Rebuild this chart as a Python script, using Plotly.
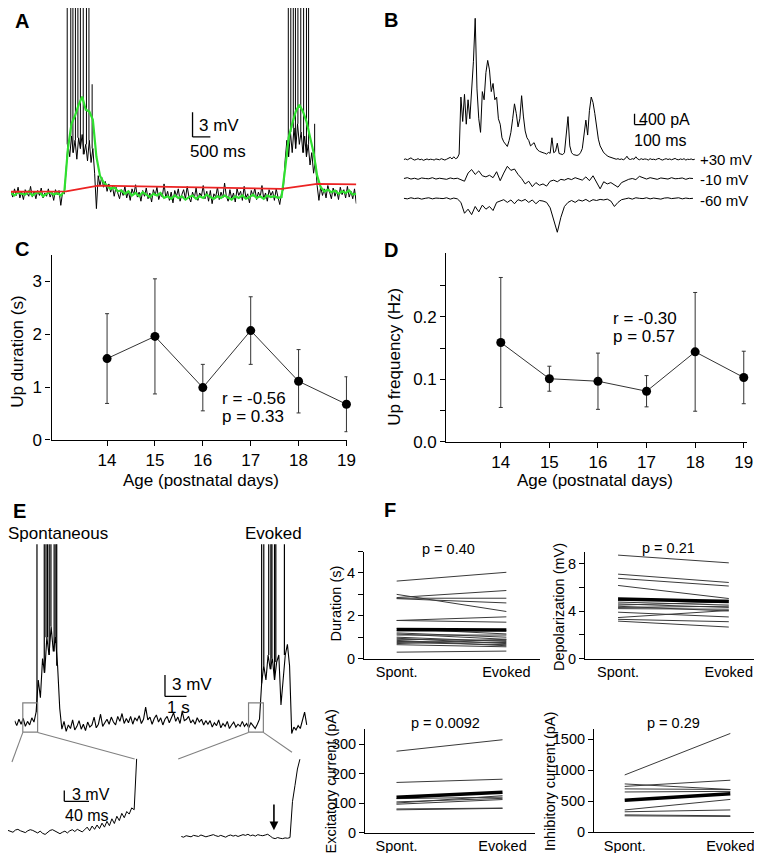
import plotly.graph_objects as go

W, H = 762, 853
FONT = "Liberation Sans, Arial, Helvetica, sans-serif"

# ======================= DATA =======================
# ---- Panel A: membrane potential (mV rel. to rest), 50 ms samples ----
a_dt = 0.05
a_membrane = [
    0.3, -0.4, 0.6, -0.2, 0.8, -0.5, 0.2, -0.7, 0.5, 0.0,
    -0.3, 0.9, -0.4, 0.3, -0.6, 0.4, -0.2, 0.7, -0.5, 0.1,
    -0.3, 0.6, -0.4, 0.2, -0.8, 0.5, -0.1, 0.4, -1.4, 0.2,
    0.0,
    3.0, 6.0, 4.5, 7.0, 5.0, 6.5, 4.2, 6.8, 5.5, 7.2,
    4.8, 6.0, 4.0, 6.5, 3.8, 5.5, 2.5, -1.8,
    2.2, 1.0, 2.0, 0.8, 1.5, 0.3, 1.2, 0.2, 0.9, -0.3, 0.8, 0.0,
    -0.6, 0.5, -0.2, 0.9, -0.5, 0.3, -0.8, 0.6, -0.1, 1.1,
    -0.4, 0.2, -0.9, 0.4, -0.3, 0.7, -0.6, 0.1, -1.0, 0.5,
    -0.2, 0.8, -0.7, 0.0, -0.4, 1.2, -0.5, 0.3, -0.8, 0.2,
    -1.1, 0.4, -0.3, 0.6, -0.9, -0.1, 0.5, -0.6, 0.9, -0.4,
    -1.0, 0.2, -0.5, 0.7, -0.8, 0.1, -0.3, 1.0, -0.6, 0.3,
    -0.9, 0.4, -1.2, 0.0, -0.4, 0.8, -0.7, 0.2, -0.5, 1.3,
    -0.3, -0.9, 0.5, -0.6, 0.1, -1.0, 0.6, -0.2, 0.3, -0.8,
    0.9, -0.5, 0.0, -1.1, 0.4, -0.3, 0.7, -0.7, 0.2, -0.4,
    1.0, -0.6, 0.1, -0.9, 0.5, -0.2, 0.3, -0.8, 0.6, -0.4,
    -1.3, 0.1,
    0.5, 4.0, 6.5, 4.5, 7.5, 5.0, 8.0, 5.5, 8.5, 6.0,
    7.5, 5.0, 7.0, 4.5, 6.0, 3.5, 5.0, 2.5, 4.0, 1.0,
    -0.8, 0.9, -0.2, 0.6, -0.5, 1.0, 0.0, -0.6, 0.7, -0.3,
    0.4, -0.7, 0.8, -0.1, 0.5, -0.5, 0.9, -0.4, 0.3, -0.6,
    0.6, -1.2,
]
a_spike_times = [1.58, 1.68, 1.74, 1.81, 1.88, 1.95, 2.03, 2.12, 2.19, 2.28,
                 7.79, 7.86, 7.93, 7.99, 8.06, 8.14, 8.22, 8.30, 8.36, 8.53]
a_spike_peaks = [30, 30, 30, 30, 30, 30, 30, 30, 30, 13.3,
                 30, 30, 30, 30, 30, 30, 30, 30, 30, 8.5]
# filtered (green), 100 ms samples
a_filt_dt = 0.1
a_filtered = [
    0.1, -0.2, 0.2, 0.0, -0.1, 0.3, -0.2, 0.1, 0.2, -0.3,
    0.0, 0.2, -0.1, 0.1, -0.2,
    0.3, 5.5, 8.5, 9.5, 10.8, 11.8, 10.2, 10.0, 9.0, 4.5,
    2.2, 1.4, 1.0, 0.6, 0.8, 0.3,
    0.4, 0.0, 0.3, -0.2, 0.1, -0.3, 0.2, -0.1, -0.4, 0.0,
    -0.2, 0.1, -0.5, -0.3, -0.6, -0.2, -0.5, -0.3, -0.7, -0.4,
    -0.2, -0.6, -0.3, -0.5, -0.1, -0.4, -0.6, -0.3, -0.5, -0.2,
    -0.4, -0.7, -0.3, -0.5, -0.2, -0.6, -0.4, -0.1, -0.5, -0.3,
    -0.6, -0.2, -0.4, -0.3, -0.5,
    -0.4, 3.0, 6.8, 8.5, 10.0, 10.8, 10.0, 8.8, 7.0, 5.0,
    2.2, 0.8,
    0.3, 0.5, 0.2, 0.4, 0.0, 0.3, 0.1, 0.4, -0.1, 0.0,
]
# slow component (red)
a_slow_t = [0, 1.55, 2.45, 3.5, 7.6, 8.6, 9.7]
a_slow = [0.25, 0.3, 1.0, 0.9, 0.6, 1.2, 1.15]

# ---- Panel B: currents (pA) at three holding potentials ----
b_dt_fine = 0.0164
b_plus30 = [
    0, 20, -10, 30, 60, 10, -20, 0, 30, -10,
    10, -30, 0, 20, -10, 10, 0, -20, 20, 10,
    -10, 30, 0, -20, 10, 40, 80, 20, 100, 30,
    60,
    200, 2300, 1400, 2400, 1300, 2200, 1500, 2500, 3600, 5200,
    2600, 1500, 1000, 2500, 2200, 3200, 3650, 3300, 2500, 2800,
    2200, 2300, 1500, 1300, 800, 650, 550, 480, 700, 1000,
    1500, 2050, 1700, 1200, 1500, 2350, 1600, 1050, 800, 700,
    500, 560, 620, 450, 350, 300, 260, 250, 230, 200,
    260, 230, 800, 250, 300, 600, 220, 200, 180, 250,
    900, 1580, 500, 250, 180, 160, 150, 170, 250, 400,
    900, 1450, 900, 1800, 2300, 2100, 1700, 1100, 750, 500,
    350, 250, 200, 130, 100, 80, 60,
    40, 10, 30, 0, 20, -10, 30, 120, 20, 0,
    30, 10, 100, 20, -10, 30, 0, 20, 10, -20,
    30, 0, 10, -10, 20, 40, 0, -20, 10, 30,
    0, 20, -10, 10, 40, 0, -10, 20, 0, 30,
    -20, 10, 0, 20, -10, 10,
]
b_dt_coarse = 0.0328
b_minus10 = [
    0, 30, -20, 10, -30, 20, 0, -10, 30, -20,
    10, 0, -30, 20, -10, 10, -40,
    -100, 200, 330, 150, 280, 100, 60, 120, 30, 250,
    -80, 200, 450, 300, 350, 150, 0, -200, -100, -300,
    -150, -250, -200, -280, -100, -60, -120, -30, -60, 0,
    -40, 30, -30, -60, 60, -80, 100, -150, -380, -120,
    -200, -150, -250, -320, -150, -80, -30, 0, -40, 80,
    20,
    -20, 30, 0, -30, 20, 10, -20, 30, -10, 0,
    20, -30, 10, 0,
]
b_minus60 = [
    0, -20, 20, -10, 10, -30, 0, 20, -20, 10,
    0, -10, 20, -30, 10, -20,
    -150, -550, -400, -600, -300, -500, -250, -400, -300, -450,
    -150, -100, -50, -150, -60, -200, -50, -100, -40, -150,
    -60, -200, -80, -100, -150, -350, -800, -1250, -700, -300,
    -150, -80, -150, -60, -100, -40, -120, -50, -80, -40,
    -60, -30, -100, -300, -150, -50,
    -20, 10, -30, 20, 0, -10, 20, -20, 10, 0,
    -30, 10, 20, -10, 0, 20, -20, 10, -10, 0,
]
b_labels = ["+30 mV", "-10 mV", "-60 mV"]

# ---- Panel C ----
ages = [14, 15, 16, 17, 18, 19]
up_duration = [1.54, 1.96, 0.99, 2.07, 1.11, 0.675]
up_duration_err = [0.85, 1.09, 0.44, 0.64, 0.60, 0.52]

# ---- Panel D ----
up_frequency = [0.159, 0.101, 0.097, 0.081, 0.144, 0.103]
up_frequency_err = [0.104, 0.020, 0.045, 0.025, 0.095, 0.042]

# ---- Panel E: membrane potential (mV), 100 ms samples ----
e_dt = 0.1
e_membrane = [
    0.3, -0.4, 0.5, -0.2, 0.6, -0.5, 0.2, -0.3, 0.7, 0.1,
    1.5, 6.0, 3.5, 9.0, 7.0, 12.0, 9.5, 13.5, 10.0, 12.0, 8.0, 2.0,
    -0.9, 0.2, -1.2, -0.3, -0.8, 0.4, -1.0, -0.5, 0.3, -0.9,
    -0.2, -1.1, 0.1, -0.6, -0.3, 0.8, -0.7, -0.2, 1.2, -0.5, 0.0,
    0.5, -0.2, 0.8, 0.1, -0.3, 0.9, 0.2, 1.3, -0.1, 0.6,
    0.0, 0.9, -0.2, 0.7, 0.3, 1.0, -0.1, 0.5, 2.2, 0.4,
    0.8, -0.2, 0.6, 1.1, 0.1, 0.7, -0.3, 0.5, 0.9, 0.0,
    0.6, 1.4, 0.2, 0.8, -0.1, 1.6, 0.3, 0.5, 0.9, 0.0,
    0.4, -0.2, 0.7, 0.1, 0.5, -0.3, 0.3,
    -0.2, 0.3, -0.6, 0.0, -0.4, 0.4, -0.7, -0.1, -0.5, 0.2,
    -0.8, -0.3, 0.1, -0.6, -0.2, -0.5,
    0.2, -0.5, -0.1, -0.7, 0.0, -0.4, -0.8, -0.2,
    0.5, 5.5, 8.0, 6.0, 9.5, 7.5, 9.0, 6.0, 8.5, 9.5,
    2.5, 6.0, 9.5, 11.0, 8.0,
    -1.5, -0.6, -1.0, -0.4, -0.8, 0.2, 1.5, -0.3,
]
e_spont_spikes = [1.04, 1.38, 1.46, 1.53, 1.61, 1.69, 1.84, 1.92, 1.96]
e_evoked_spikes = [11.50, 11.60, 11.83, 11.93, 11.98, 12.10, 12.16, 12.56]
e_spike_peak = 40
# expanded views (mV), 4 ms samples
e_inset_dt = 4
e_inset_spont = [
    0.3, 0.0, -0.2, 0.4, 0.6, 0.2, 0.0, -0.3, 0.2, 0.5,
    0.3, -0.1, -0.4, 0.1, -0.5, -0.8, -0.2, 0.3, 0.5, 0.2,
    -0.3, -0.6, -0.2, 0.1, -0.4, 0.2, 0.5, 0.0, 0.6, 0.3,
    -0.1,
    0.5, 1.2, 0.2, 1.5, 0.6, 1.8, 0.8, 2.3, 1.2, 2.8, 1.6, 3.5, 2.2,
    4.2, 3.0, 5.0, 3.8, 5.5, 4.8, 6.5, 6.0, 20.0,
]
e_inset_evoked = [
    0.0, -0.2, 0.2, 0.1, -0.1, 0.3, 0.2, 0.0, 0.4, 0.2,
    -0.1, 0.1, 0.3, 0.5, 0.2, 0.0, 0.3, 0.1, -0.2, 0.2,
    0.4, 0.1, 0.3, 0.0, 0.2, 0.5, 0.3, 0.6, 0.2, 0.4,
    0.1, 0.5, 0.3, 0.2, 0.4, 0.6, 0.1,
    -0.4, -0.6, -0.3, -0.5, -0.6, -0.4, -0.5, -0.3,
    9.6, 14.0, 18.6, 21.3,
]
e_stim_time = 150  # ms, arrow in evoked expanded view

# ---- Panel F: paired spontaneous vs evoked ----
f_conditions = ["Spont.", "Evoked"]
f_dur_spont = [3.62, 3.00, 2.85, 2.82, 2.80, 1.78, 1.78, 1.40, 1.30, 1.20, 1.15,
               1.10, 1.00, 0.95, 0.90, 0.85, 0.80, 0.75, 0.70, 0.65, 0.30]
f_dur_evoked = [4.03, 2.20, 3.18, 2.82, 2.60, 1.95, 1.70, 1.15, 1.30, 1.00, 0.90,
                1.10, 0.80, 0.70, 0.85, 0.60, 0.75, 0.65, 0.90, 0.55, 0.35]
f_dur_mean = [1.36, 1.34]
f_dep_spont = [8.70, 7.10, 6.75, 6.15, 4.90, 4.75, 4.60, 4.50, 4.40, 4.30, 4.20, 3.90, 3.45, 3.30, 3.15]
f_dep_evoked = [8.05, 6.40, 6.10, 5.05, 4.90, 4.50, 4.30, 4.75, 4.00, 4.40, 4.15, 3.50, 4.05, 3.10, 2.65]
f_dep_mean = [5.00, 4.80]
f_exc_spont = [276, 170, 115, 104, 100, 96, 80, 77]
f_exc_evoked = [315, 181, 120, 116, 125, 112, 83, 82]
f_exc_mean = [120, 137]
f_inh_spont = [925, 780, 740, 700, 650, 360, 330, 280, 265]
f_inh_evoked = [1595, 690, 840, 690, 660, 530, 360, 265, 255]
f_inh_mean = [515, 620]

# ======================= HELPERS =======================
BIG = 17
MID = 16
SMALL = 14.5


def dxp(a, b):
    return [a / W, b / W]


def dyp(top, bottom):
    return [1 - bottom / H, 1 - top / H]


def times(n, dt):
    return [i * dt for i in range(n)]


def spikes(ts, peaks, trace, dt):
    xs, ys = [], []
    for t, p in zip(ts, peaks):
        base = trace[min(len(trace) - 1, int(round(t / dt)))]
        xs += [t, t, None]
        ys += [base, p, None]
    return xs, ys


def pairs(s, e):
    xs, ys = [], []
    for a, b in zip(s, e):
        xs += [0, 1, None]
        ys += [a, b, None]
    return xs, ys


def txt(x, y, s, size=BIG, xanchor="center", angle=0, bold=False):
    return dict(x=x / W, y=1 - y / H, xref="paper", yref="paper",
                text=("<b>%s</b>" % s) if bold else s, showarrow=False,
                xanchor=xanchor, yanchor="middle", textangle=angle,
                font=dict(family=FONT, size=size, color="black"))


def dtxt(x, y, s, ax, size=BIG, xanchor="left"):
    return dict(x=x, y=y, xref="x" + ax, yref="y" + ax, text=s, showarrow=False,
                xanchor=xanchor, yanchor="middle",
                font=dict(family=FONT, size=size, color="black"))


def hidden(domain, rng, anchor):
    return dict(domain=domain, range=rng, visible=False, anchor=anchor, fixedrange=True)


def vis(domain, rng, anchor, tickvals, ticktext=None, size=BIG, ticks="outside"):
    d = dict(domain=domain, range=rng, anchor=anchor, showline=True, linecolor="black",
             linewidth=1.3, ticks=ticks, ticklen=5, tickwidth=1.3, tickcolor="black",
             tickvals=tickvals, showgrid=False, zeroline=False, fixedrange=True,
             tickfont=dict(family=FONT, size=size, color="black"))
    if ticktext is not None:
        d["ticktext"] = ticktext
    return d


def seg(x0, y0, x1, y1, ax, color="black", width=1.3):
    return dict(type="line", x0=x0, y0=y0, x1=x1, y1=y1, xref="x" + ax, yref="y" + ax,
                line=dict(color=color, width=width))


def pseg(x0, y0, x1, y1, color="#808080", width=1.1):
    return dict(type="line", x0=x0 / W, y0=1 - y0 / H, x1=x1 / W, y1=1 - y1 / H,
                xref="paper", yref="paper", line=dict(color=color, width=width))


fig = go.Figure()
shapes, ann = [], []

# ======================= PANEL A =======================
fig.add_trace(go.Scatter(x=times(len(a_membrane), a_dt), y=a_membrane, mode="lines",
                         line=dict(color="black", width=1), xaxis="x", yaxis="y"))
sx, sy = spikes(a_spike_times, a_spike_peaks, a_membrane, a_dt)
fig.add_trace(go.Scatter(x=sx, y=sy, mode="lines", line=dict(color="black", width=1),
                         xaxis="x", yaxis="y"))
fig.add_trace(go.Scatter(x=times(len(a_filtered), a_filt_dt), y=a_filtered, mode="lines",
                         line=dict(color="#2fe02f", width=2.2), xaxis="x", yaxis="y"))
fig.add_trace(go.Scatter(x=a_slow_t, y=a_slow, mode="lines",
                         line=dict(color="#ec2323", width=1.8), xaxis="x", yaxis="y"))
shapes += [seg(5.1, 6.9, 5.1, 9.9, ""), seg(5.1, 6.9, 5.6, 6.9, "")]
ann += [dtxt(5.22, 8.3, "3 mV", ""), dtxt(4.98, 5.1, "500 ms", "")]

# ======================= PANEL B =======================
b_offsets = [0, -700, -1430]
for arr, dt, off in [(b_plus30, b_dt_fine, b_offsets[0]),
                     (b_minus10, b_dt_coarse, b_offsets[1]),
                     (b_minus60, b_dt_coarse, b_offsets[2])]:
    fig.add_trace(go.Scatter(x=times(len(arr), dt), y=[v + off for v in arr], mode="lines",
                             line=dict(color="black", width=1), xaxis="x2", yaxis="y2"))
shapes += [seg(2.12, 1285, 2.12, 1685, "2"), seg(2.12, 1285, 2.22, 1285, "2")]
ann += [dtxt(2.14, 1485, "400 pA", "2", size=MID), dtxt(2.095, 700, "100 ms", "2", size=MID)]
ann += [txt(697, 153, b_labels[0], 15, xanchor="left"),
        txt(697, 174, b_labels[1], 15, xanchor="left"),
        txt(697, 195, b_labels[2], 15, xanchor="left")]

# ======================= PANEL C / D =======================
for y, err, ax in [(up_duration, up_duration_err, "3"), (up_frequency, up_frequency_err, "4")]:
    fig.add_trace(go.Scatter(x=ages, y=y, mode="lines+markers",
                             line=dict(color="#333333", width=1),
                             marker=dict(color="black", size=9),
                             error_y=dict(type="data", array=err, color="#333333",
                                          thickness=1, width=2),
                             xaxis="x" + ax, yaxis="y" + ax, cliponaxis=False))

# ======================= PANEL E =======================
fig.add_trace(go.Scatter(x=times(len(e_membrane), e_dt), y=e_membrane, mode="lines",
                         line=dict(color="black", width=1.1), xaxis="x5", yaxis="y5"))
allsp = e_spont_spikes + e_evoked_spikes
sx, sy = spikes(allsp, [e_spike_peak] * len(allsp), e_membrane, e_dt)
fig.add_trace(go.Scatter(x=sx, y=sy, mode="lines", line=dict(color="black", width=1.2),
                         xaxis="x5", yaxis="y5"))
fig.add_trace(go.Scatter(x=times(len(e_inset_spont), e_inset_dt), y=e_inset_spont,
                         mode="lines", line=dict(color="black", width=1),
                         xaxis="x6", yaxis="y6"))
fig.add_trace(go.Scatter(x=times(len(e_inset_evoked), e_inset_dt), y=e_inset_evoked,
                         mode="lines", line=dict(color="black", width=1),
                         xaxis="x7", yaxis="y7"))
# boxes marking expanded regions
for t0, t1 in [(0.38, 1.07), (10.89, 11.58)]:
    shapes.append(dict(type="rect", x0=t0, x1=t1, y0=-1.3, y1=2.8, xref="x5", yref="y5",
                       line=dict(color="#808080", width=1.2)))
shapes += [pseg(15, 733, 4, 763), pseg(30, 733, 128, 760),
           pseg(243, 733, 172, 760), pseg(258, 733, 287, 753)]
shapes += [seg(7.0, 3.7, 7.0, 6.7, "5"), seg(7.0, 3.7, 8.0, 3.7, "5")]
ann += [dtxt(7.25, 5.3, "3 mV", "5"), dtxt(7.02, 2.1, "1 s", "5")]
shapes += [seg(91, 8.3, 91, 11.3, "6"), seg(91, 8.3, 131, 8.3, "6")]
ann += [dtxt(100, 10.2, "3 mV", "6", size=MID), dtxt(89, 4.4, "40 ms", "6", size=MID)]
ann.append(dict(x=e_stim_time, y=1.7, ax=e_stim_time, ay=9.2, xref="x7", yref="y7",
                axref="x7", ayref="y7", text="", showarrow=True, arrowhead=2,
                arrowsize=1.1, arrowwidth=1.6, arrowcolor="black"))
ann += [txt(51, 532, "Spontaneous"), txt(268, 532, "Evoked")]

# ======================= PANEL F =======================
f_sets = [(f_dur_spont, f_dur_evoked, f_dur_mean, "8"),
          (f_dep_spont, f_dep_evoked, f_dep_mean, "9"),
          (f_exc_spont, f_exc_evoked, f_exc_mean, "10"),
          (f_inh_spont, f_inh_evoked, f_inh_mean, "11")]
for s, e, m, ax in f_sets:
    px_, py_ = pairs(s, e)
    fig.add_trace(go.Scatter(x=px_, y=py_, mode="lines", line=dict(color="#3a3a3a", width=1),
                             xaxis="x" + ax, yaxis="y" + ax))
    fig.add_trace(go.Scatter(x=[0, 1], y=m, mode="lines", line=dict(color="black", width=3.5),
                             xaxis="x" + ax, yaxis="y" + ax))

# ======================= TEXT =======================
ann += [txt(14, 13, "A", 20, bold=True), txt(387, 12, "B", 20, bold=True),
        txt(14, 244, "C", 20, bold=True), txt(387, 245, "D", 20, bold=True),
        txt(12, 509, "E", 20, bold=True), txt(386, 508, "F", 20, bold=True)]
ann += [txt(214, 395, "r = -0.56", xanchor="left"), txt(214, 413, "p = 0.33", xanchor="left"),
        txt(609, 314, "r = -0.30", xanchor="left"), txt(609, 332.5, "p = 0.57", xanchor="left")]
ann += [txt(10, 348, "Up duration (s)", angle=-90), txt(391, 353, "Up frequency (Hz)", angle=-90),
        txt(195, 478, "Age (postnatal days)"), txt(593, 478, "Age (postnatal days)")]
ann += [txt(331, 603, "Duration (s)", SMALL, angle=-90),
        txt(557, 606, "Depolarization (mV)", SMALL, angle=-90),
        txt(326, 783, "Excitatory current (pA)", SMALL, angle=-90),
        txt(548, 783, "Inhibitory current (pA)", SMALL, angle=-90)]
ann += [txt(445, 547, "p = 0.40", SMALL), txt(668, 546, "p = 0.21", SMALL),
        txt(442, 723, "p = 0.0092", SMALL), txt(673, 723, "p = 0.29", SMALL)]

# ======================= LAYOUT =======================
lay = dict(
    width=W, height=H, margin=dict(l=0, r=0, t=0, b=0), autosize=False,
    paper_bgcolor="white", plot_bgcolor="white", showlegend=False,
    font=dict(family=FONT, color="black"),
    xaxis=hidden(dxp(3, 352), [0, 9.7], "y"),
    yaxis=hidden(dyp(0, 213), [-3.0, 22.56], "x"),
    xaxis2=hidden(dxp(400, 695), [0, 2.682], "y2"),
    yaxis2=hidden(dyp(0, 230), [-2792, 5580], "x2"),
    xaxis3=vis(dxp(44, 343), [12.84, 19.02], "y3", ages),
    yaxis3=vis(dyp(250, 437), [0, 3.5], "x3", [0, 1, 2, 3]),
    xaxis4=vis(dxp(443, 747), [12.88, 19.07], "y4", ages),
    yaxis4=vis(dyp(248, 439), [0, 0.302], "x4", [0, 0.05, 0.1, 0.15, 0.2, 0.25],
               ["0.0", "", "0.1", "", "0.2", ""]),
    xaxis5=hidden(dxp(6.7, 303), [0, 13.65], "y5"),
    yaxis5=hidden(dyp(542.7, 750), [-3.7, 25], "x5"),
    xaxis6=hidden(dxp(0, 132), [0, 211.2], "y6"),
    yaxis6=hidden(dyp(755, 845), [-3.19, 21.3], "x6"),
    xaxis7=hidden(dxp(175, 300), [0, 200], "y7"),
    yaxis7=hidden(dyp(755, 845), [-1.83, 22.7], "x7"),
    xaxis8=vis(dxp(360, 538), [-0.296, 1.31], "y8", [0, 1], f_conditions, SMALL, ""),
    yaxis8=vis(dyp(550, 658.3), [0, 5], "x8", [0, 1, 2, 3, 4, 5], ["0", "", "2", "", "4", ""], SMALL),
    xaxis9=vis(dxp(583.3, 762), [-0.297, 1.3], "y9", [0, 1], f_conditions, SMALL, ""),
    yaxis9=vis(dyp(550, 658.3), [0, 9], "x9", [0, 2, 4, 6, 8], ["0", "", "4", "", "8"], SMALL),
    xaxis10=vis(dxp(361, 533), [-0.295, 1.31], "y10", [0, 1], f_conditions, SMALL, ""),
    yaxis10=vis(dyp(730, 834.3), [0, 350], "x10", [0, 100, 200, 300], None, SMALL),
    xaxis11=vis(dxp(592.3, 762), [-0.29, 1.30], "y11", [0, 1], f_conditions, SMALL, ""),
    yaxis11=vis(dyp(730, 834), [0, 1660], "x11", [0, 500, 1000, 1500], None, SMALL),
    shapes=shapes, annotations=ann,
)
fig.update_layout(**lay)
fig.write_html("out.html")
